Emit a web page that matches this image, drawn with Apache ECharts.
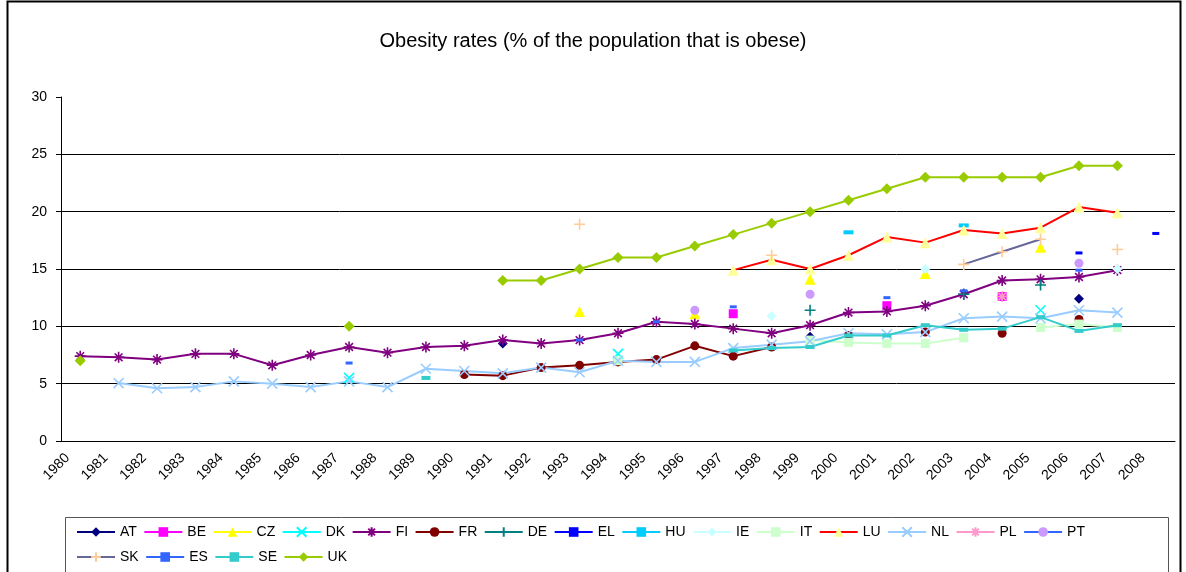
<!DOCTYPE html>
<html>
<head>
<meta charset="utf-8">
<script src="https://cdn.jsdelivr.net/npm/echarts@6/dist/echarts.min.js"></script>
<style>
  html, body { margin: 0; padding: 0; background: #fff; }
  #chart { width: 1186px; height: 572px; }
</style>
</head>
<body>
<div id="chart"></div>
<script>
  // categories
  const years = ['1980', '1981', '1982', '1983', '1984', '1985', '1986', '1987', '1988', '1989',
    '1990', '1991', '1992', '1993', '1994', '1995', '1996', '1997', '1998', '1999',
    '2000', '2001', '2002', '2003', '2004', '2005', '2006', '2007', '2008'];
  const yTicks = [0, 5, 10, 15, 20, 25, 30];

  // [year, % obese]
  const AT = [[1991, 8.5], [1999, 9.1], [2006, 12.4]];
  const BE = [[1997, 11.1], [2001, 11.8], [2004, 12.6]];
  const CZ = [[1993, 11.3], [1996, 11.1], [1999, 14.1], [2002, 14.6], [2005, 16.9]];
  const DK = [[1987, 5.5], [1994, 7.6], [2005, 11.4]];
  const FI = [[1980, 7.4], [1981, 7.3], [1982, 7.1], [1983, 7.6], [1984, 7.6], [1985, 6.6], [1986, 7.5],
    [1987, 8.2], [1988, 7.7], [1989, 8.2], [1990, 8.3], [1991, 8.8], [1992, 8.5], [1993, 8.8],
    [1994, 9.4], [1995, 10.4], [1996, 10.2], [1997, 9.8], [1998, 9.4], [1999, 10.1], [2000, 11.2],
    [2001, 11.3], [2002, 11.8], [2003, 12.8], [2004, 14.0], [2005, 14.1], [2006, 14.3], [2007, 14.9]];
  const FR = [[1990, 5.8], [1991, 5.7], [1992, 6.4], [1993, 6.6], [1994, 6.9], [1995, 7.1], [1996, 8.3],
    [1997, 7.4], [1998, 8.2], [2000, 9.2], [2002, 9.5], [2004, 9.4], [2006, 10.6]];
  const DE = [[1999, 11.4], [2003, 12.8], [2005, 13.6]];
  const EL = [[2006, 16.4], [2008, 18.1]];
  const HU = [[2000, 18.2], [2003, 18.8]];
  const IE = [[1998, 10.9], [2002, 15.0], [2007, 15.0]];
  const IT = [[1994, 7.0], [1999, 8.8], [2000, 8.6], [2001, 8.5], [2002, 8.5], [2003, 9.0],
    [2005, 9.9], [2006, 10.2], [2007, 9.9]];
  const LU = [[1997, 14.9], [1998, 15.8], [1999, 15.0], [2000, 16.2], [2001, 17.8], [2002, 17.3],
    [2003, 18.4], [2004, 18.1], [2005, 18.6], [2006, 20.4], [2007, 19.9]];
  const NL = [[1981, 5.05], [1982, 4.6], [1983, 4.7], [1984, 5.2], [1985, 5.0], [1986, 4.7], [1987, 5.2],
    [1988, 4.7], [1989, 6.3], [1990, 6.1], [1991, 5.9], [1992, 6.4], [1993, 6.0], [1994, 7.0],
    [1995, 6.9], [1996, 6.9], [1997, 8.1], [1998, 8.4], [1999, 8.7], [2000, 9.4], [2001, 9.3],
    [2002, 9.5], [2003, 10.7], [2004, 10.85], [2005, 10.7], [2006, 11.4], [2007, 11.2]];
  const PL = [[2004, 12.6]];
  const PT = [[1996, 11.4], [1999, 12.8], [2006, 15.5]];
  const SK = [[1993, 18.9], [1998, 16.2], [2003, 15.4], [2004, 16.5], [2005, 17.6], [2007, 16.7]];
  const ES = [[1987, 6.8], [1993, 8.8], [1995, 10.4], [1997, 11.7], [2001, 12.5], [2003, 13.1], [2006, 14.9]];
  const SE = [[1989, 5.5], [1997, 7.9], [1998, 8.1], [1999, 8.2], [2000, 9.2], [2001, 9.2], [2002, 10.1],
    [2003, 9.7], [2004, 9.8], [2005, 10.8], [2006, 9.6], [2007, 10.1]];
  const UK = [[1980, 7.0], [1987, 10.0], [1991, 14], [1992, 14], [1993, 15], [1994, 16], [1995, 16],
    [1996, 17], [1997, 18], [1998, 19], [1999, 20], [2000, 21], [2001, 22], [2002, 23], [2003, 23],
    [2004, 23], [2005, 23], [2006, 24], [2007, 24]];

  // spread [year, value] pairs over the year axis, gaps stay null
  function toRow(pairs) {
    const row = years.map(() => null);
    pairs.forEach(p => { row[years.indexOf(String(p[0]))] = p[1]; });
    return row;
  }

  const X = 'path://M0,0L10,10M10,0L0,10';
  const STAR = 'path://M5,0L5,10M0,5L10,5M1.5,1.5L8.5,8.5M8.5,1.5L1.5,8.5';
  const PLUS = 'path://M5,0L5,10M0,5L10,5';

  // name, data, marker colour, line colour, symbol, size, stroked?
  const defs = [
    ['AT', AT, '#000080', '#000080', 'diamond', 10, false],
    ['BE', BE, '#FF00FF', '#FF00FF', 'rect', 9, false],
    ['CZ', CZ, '#FFFF00', '#FFFF00', 'triangle', 11, false],
    ['DK', DK, '#00FFFF', '#00FFFF', X, 10, true],
    ['FI', FI, '#800080', '#800080', STAR, 11, true],
    ['FR', FR, '#800000', '#800000', 'circle', 9, false],
    ['DE', DE, '#008080', '#008080', PLUS, 11, true],
    ['EL', EL, '#0000FF', '#0000FF', 'rect', [7, 3], false],
    ['HU', HU, '#00CCFF', '#00CCFF', 'rect', [10, 4], false],
    ['IE', IE, '#CCFFFF', '#CCFFFF', 'diamond', 10, false],
    ['IT', IT, '#CCFFCC', '#CCFFCC', 'rect', 9, false],
    ['LU', LU, '#FFFF99', '#FF0000', 'triangle', 11, false],
    ['NL', NL, '#99CCFF', '#99CCFF', X, 10, true],
    ['PL', PL, '#FF99CC', '#FF99CC', STAR, 11, true],
    ['PT', PT, '#CC99FF', '#3366FF', 'circle', 9, false],
    ['SK', SK, '#FFCC99', '#666699', PLUS, 11, true],
    ['ES', ES, '#3366FF', '#3366FF', 'rect', [7, 3], false],
    ['SE', SE, '#33CCCC', '#33CCCC', 'rect', [9, 4], false],
    ['UK', UK, '#99CC00', '#99CC00', 'diamond', 11, false]
  ];

  const series = defs.map(d => ({
    name: d[0],
    type: 'line',
    data: toRow(d[1]),
    symbol: d[4],
    symbolSize: d[5],
    showSymbol: true,
    showAllSymbol: true,
    connectNulls: false,
    animation: false,
    lineStyle: { color: d[3], width: 2 },
    itemStyle: d[6]
      ? { color: d[2], borderColor: d[2], borderWidth: 1.6 }
      : { color: d[2], borderWidth: 0 }
  }));

  const font = '"Liberation Sans", Arial, sans-serif';
  const legendBase = {
    left: 71,
    orient: 'horizontal',
    itemWidth: 38,
    itemHeight: 12,
    itemGap: 6.5,
    textStyle: { fontFamily: font, fontSize: 14, color: '#000', width: 24 }
  };

  const chart = echarts.init(document.getElementById('chart'));
  chart.setOption({
    animation: false,
    backgroundColor: '#fff',
    title: {
      text: 'Obesity rates (% of the population that is obese)',
      left: 'center',
      top: 26,
      textStyle: { fontFamily: font, fontSize: 20, fontWeight: 'normal', color: '#000' }
    },
    legend: [
      Object.assign({}, legendBase, { top: 520, data: defs.slice(0, 15).map(d => d[0]) }),
      Object.assign({}, legendBase, { top: 545, data: defs.slice(15).map(d => d[0]) })
    ],
    grid: { left: 61, right: 11, top: 97, bottom: 131 },
    xAxis: {
      type: 'category',
      data: years,
      boundaryGap: true,
      axisLine: { lineStyle: { color: '#000', width: 1 } },
      axisTick: { interval: 0, length: 5, lineStyle: { color: '#000' } },
      axisLabel: {
        interval: 0, rotate: 45, margin: 2, padding: [0, 18, 0, 0],
        fontFamily: font, fontSize: 14, color: '#000'
      }
    },
    yAxis: {
      type: 'value',
      min: yTicks[0],
      max: yTicks[yTicks.length - 1],
      interval: 5,
      axisLine: { show: true, lineStyle: { color: '#000', width: 1 } },
      axisTick: { show: true, length: 5, lineStyle: { color: '#000' } },
      axisLabel: { margin: 14, fontFamily: font, fontSize: 14, color: '#000' },
      splitLine: {
        show: true,
        lineStyle: { color: ['#000', '#000', '#000', '#000', '#000', '#000', 'rgba(0,0,0,0)'], width: 1 }
      }
    },
    graphic: [
      {
        type: 'rect',
        shape: { x: 7.5, y: 1.5, width: 1173, height: 590 },
        style: { fill: 'none', stroke: '#000', lineWidth: 2 },
        silent: true
      },
      {
        type: 'rect',
        shape: { x: 65.5, y: 517.5, width: 1103, height: 80 },
        style: { fill: 'none', stroke: '#555', lineWidth: 1 },
        silent: true
      }
    ],
    series: series
  });
</script>
</body>
</html>
